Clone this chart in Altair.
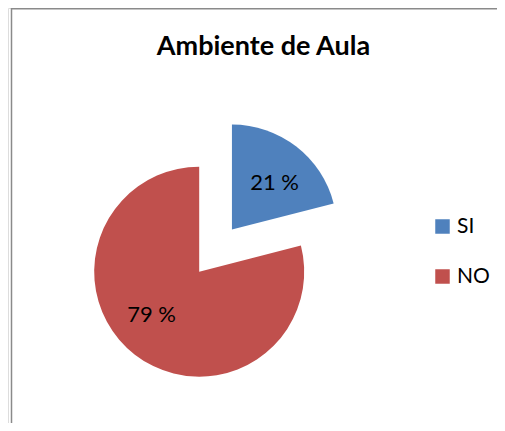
import math
import altair as alt
import pandas as pd

# ---- data ----
categories = ["SI", "NO"]
values = [21, 79]
labels = ["21 %", "79 %"]
colors = ["#4F81BD", "#C0504D"]
title_text = "Ambiente de Aula"

df = pd.DataFrame({"cat": categories, "val": values, "label": labels, "order": list(range(len(categories)))})

W, H = 489, 415
FONT = "Lato"

# pie geometry (chart coords)
cx, cy, R = 191.2, 263.7, 105
explode = 53.4
total = sum(values)
mid_si = math.pi * values[0] / total
sx, sy = cx + explode * math.sin(mid_si), cy - explode * math.cos(mid_si)
LABEL_R = 63

color = alt.Color(
    "cat:N",
    scale=alt.Scale(domain=categories, range=colors),
    sort=categories,
    legend=alt.Legend(
        title=None, orient="none", legendX=424, legendY=208, padding=0,
        symbolType="square", symbolSize=210, symbolStrokeWidth=0,
        labelFont=FONT, labelFontSize=21, labelColor="#000000",
        rowPadding=28, labelOffset=4,
    ),
)

base = (
    alt.Chart(df)
    .transform_joinaggregate(total="sum(val)")
    .transform_window(cum="sum(val)", sort=[alt.SortField("order")])
    .transform_calculate(
        start="2*PI*(datum.cum-datum.val)/datum.total",
        end="2*PI*datum.cum/datum.total",
        mid="PI*(2*datum.cum-datum.val)/datum.total",
    )
)

def slice_layer(cat, x, y, dx, dy):
    b = base.transform_filter(alt.datum.cat == cat)
    arc = b.mark_arc(outerRadius=R, stroke=None).encode(
        theta=alt.Theta("start:Q", scale=None),
        theta2="end:Q",
        color=color,
        x=alt.value(x), y=alt.value(y),
    )
    txt = b.mark_text(radius=LABEL_R, font=FONT, fontSize=22, color="#000000", dx=dx, dy=dy).encode(
        theta=alt.Theta("mid:Q", scale=None),
        text="label:N",
        x=alt.value(x), y=alt.value(y),
    )
    return [arc, txt]

dummy = alt.Chart(pd.DataFrame({"t": [title_text]}))
border_left = dummy.mark_rule(color="#8a8a8a", strokeWidth=1.5).encode(
    x=alt.value(3.5), y=alt.value(0), y2=alt.value(H)
)
border_top = dummy.mark_rule(color="#8a8a8a", strokeWidth=1.5).encode(
    x=alt.value(3.5), x2=alt.value(W), y=alt.value(0.75)
)
title = dummy.mark_text(font=FONT, fontSize=27, fontWeight="bold", color="#000000", baseline="alphabetic").encode(
    text="t:N", x=alt.value(255.5), y=alt.value(47)
)

layers = [border_left, border_top, title] + slice_layer("SI", sx, sy, 4, 3) + slice_layer("NO", cx, cy, -9, -6)

chart = alt.layer(*layers).properties(
    width=W, height=H, padding=0, autosize=alt.AutoSizeParams(type="none")
).configure_view(stroke=None).configure(background="#ffffff")

chart.save("out.html", embed_options={"renderer": "svg", "actions": False})
